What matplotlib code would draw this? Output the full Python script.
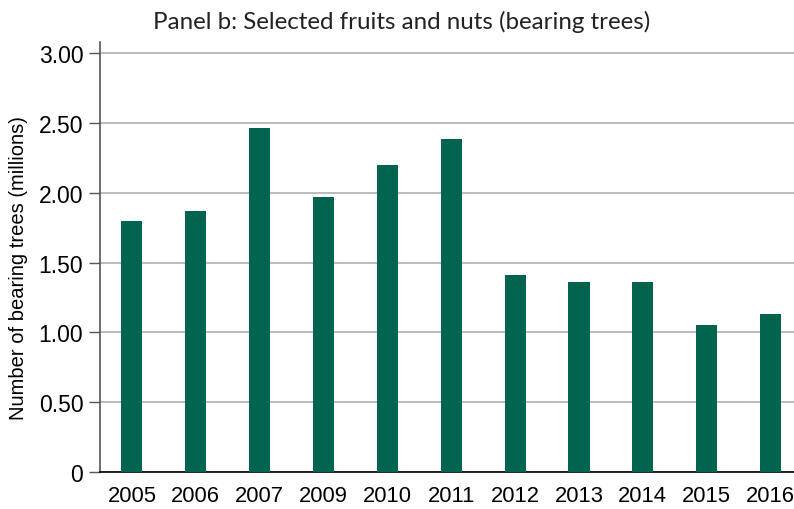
import matplotlib
matplotlib.use("Agg")
import matplotlib.pyplot as plt

years = ["2005", "2006", "2007", "2009", "2010", "2011", "2012", "2013", "2014", "2015", "2016"]
values = [1.80, 1.87, 2.46, 1.97, 2.20, 2.38, 1.41, 1.36, 1.36, 1.05, 1.13]
yticks = [0, 0.5, 1.0, 1.5, 2.0, 2.5, 3.0]
ytick_labels = ["0", "0.50", "1.00", "1.50", "2.00", "2.50", "3.00"]

plt.rcParams['font.family'] = ['Liberation Sans', 'DejaVu Sans']

fig = plt.figure(figsize=(7.94, 5.10), dpi=100)
W, H = 794, 510
left, right = 100, 802.5
top, bottom = 43.3, 473.3
ax = fig.add_axes([left / W, (H - bottom) / H, (right - left) / W, (bottom - top) / H])

x = list(range(len(years)))
ax.bar(x, values, width=0.33, color='#00644F', zorder=3)
ax.set_xlim(-0.5, len(years) - 0.5)
ax.set_ylim(0, 3.075)
ax.set_yticks(yticks)
ax.set_yticklabels(ytick_labels, fontsize=16.5)
ax.set_xticks(x)
ax.set_xticklabels(years, fontsize=15.8)
ax.tick_params(axis='x', length=0, pad=9)
ax.tick_params(axis='y', length=8, width=1, color='#555555', pad=4)
ax.grid(axis='y', color='#b0b0b0', linewidth=1.2, zorder=0)
for s in ['top', 'right']:
    ax.spines[s].set_visible(False)
ax.spines['left'].set_color('#555555')
ax.spines['left'].set_linewidth(1.2)
ax.spines['bottom'].set_color('#000000')
ax.spines['bottom'].set_linewidth(1.2)
ax.set_ylabel("Number of bearing trees (millions)", fontsize=14.5)
ax.yaxis.set_label_coords(-72 / (right - left), 0.478)

fig.text(402 / W, 1 - 22 / H, "Panel b: Selected fruits and nuts (bearing trees)",
         ha='center', va='center', fontsize=17.4, family=['Lato', 'DejaVu Sans'], color='#222222')

fig.savefig("out.png", dpi=100)
